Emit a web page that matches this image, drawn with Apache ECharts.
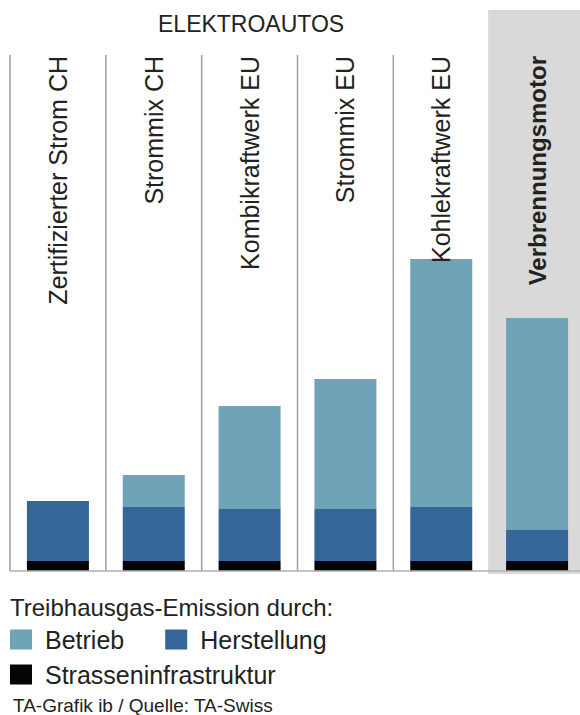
<!DOCTYPE html>
<html>
<head>
<meta charset="utf-8">
<script src="https://cdn.jsdelivr.net/npm/echarts@6/dist/echarts.min.js"></script>
<style>
html,body{margin:0;padding:0;background:#fff;}
#chart{width:580px;height:715px;}
</style>
</head>
<body>
<div id="chart"></div>
<script>
var categories = ['Zertifizierter Strom CH', 'Strommix CH', 'Kombikraftwerk EU', 'Strommix EU', 'Kohlekraftwerk EU', 'Verbrennungsmotor'];
var strasseninfrastruktur = [10, 10, 10, 10, 10, 10];
var herstellung = [60, 54, 52, 52, 54, 31];
var betrieb = [0, 32, 103, 130, 248, 212];
var groupTitle = 'ELEKTROAUTOS';
var legendTitle = 'Treibhausgas-Emission durch:';
var sourceText = 'TA-Grafik ib / Quelle: TA-Swiss';

var FONT = '"Liberation Sans", Arial, sans-serif';
var TXT = '#222';
var chart = echarts.init(document.getElementById('chart'), null, {renderer: 'svg'});

var topAxisData = categories.map(function (c, i) {
  return i === categories.length - 1
    ? {value: c, textStyle: {fontWeight: 'bold', fontSize: 24}}
    : {value: c};
});

var option = {
  animation: false,
  backgroundColor: '#fff',
  title: [
    {text: groupTitle, left: 153, top: 7, textStyle: {fontFamily: FONT, fontSize: 23, fontWeight: 'normal', color: TXT}},
    {text: legendTitle, left: 5, top: 590, textStyle: {fontFamily: FONT, fontSize: 24, fontWeight: 'normal', color: TXT}},
    {text: sourceText, left: 8, top: 691, textStyle: {fontFamily: FONT, fontSize: 19, fontWeight: 'normal', color: TXT}}
  ],
  legend: [
    {data: ['Betrieb', 'Herstellung'], left: 5, top: 622, icon: 'rect', itemWidth: 22, itemHeight: 20, itemGap: 41,
     textStyle: {fontFamily: FONT, fontSize: 25, color: TXT, padding: [0, 0, 0, 8]}},
    {data: ['Strasseninfrastruktur'], left: 5, top: 657, icon: 'rect', itemWidth: 22, itemHeight: 20,
     textStyle: {fontFamily: FONT, fontSize: 25, color: TXT, padding: [0, 0, 0, 8]}}
  ],
  grid: {left: 10, top: 10, width: 575, height: 561, containLabel: false, outerBoundsMode: 'none'},
  xAxis: [
    {type: 'category', data: categories, position: 'bottom', z: 4,
     axisLine: {show: true, lineStyle: {color: '#b0b0b0', width: 1.5}},
     axisTick: {show: false}, axisLabel: {show: false}, splitLine: {show: false}},
    {type: 'category', data: topAxisData, position: 'top', z: 10,
     axisLine: {show: false}, axisTick: {show: false}, splitLine: {show: false},
     axisLabel: {show: true, inside: true, rotate: -90, margin: 46, interval: 0,
       showMinLabel: true, showMaxLabel: true, hideOverlap: false,
       fontFamily: FONT, fontSize: 25, color: TXT}}
  ],
  yAxis: {type: 'value', min: 0, max: 561, show: false, splitLine: {show: false}},
  series: [
    {type: 'custom', name: 'bg', xAxisIndex: 0, z: 1, silent: true, clip: false,
     data: categories.map(function (c, i) { return [i]; }),
     encode: {x: 0},
     renderItem: function (params, api) {
       var idx = api.value(0);
       var base = api.coord([idx, 0]);
       var bw = api.size([1, 0])[0];
       var left = base[0] - bw / 2;
       if (idx === 5) {
         var top = api.coord([idx, 561])[1];
         return {type: 'rect', shape: {x: left - 1, y: top, width: 600 - left, height: base[1] + 3 - top},
                 style: {fill: '#d9d9d9'}};
       }
       var t = api.coord([idx, 516])[1];
       return {type: 'line', shape: {x1: left, y1: t, x2: left, y2: base[1]},
               style: {stroke: '#a0a0a0', lineWidth: 1.5}};
     }},
    {type: 'bar', name: 'Strasseninfrastruktur', stack: 'e', data: strasseninfrastruktur, barWidth: 62, z: 3,
     itemStyle: {color: '#050505'}},
    {type: 'bar', name: 'Herstellung', stack: 'e', data: herstellung, barWidth: 62, z: 3,
     itemStyle: {color: '#346699'}},
    {type: 'bar', name: 'Betrieb', stack: 'e', data: betrieb, barWidth: 62, z: 3,
     itemStyle: {color: '#6fa3b7'}}
  ]
};
chart.setOption(option);
</script>
</body>
</html>
